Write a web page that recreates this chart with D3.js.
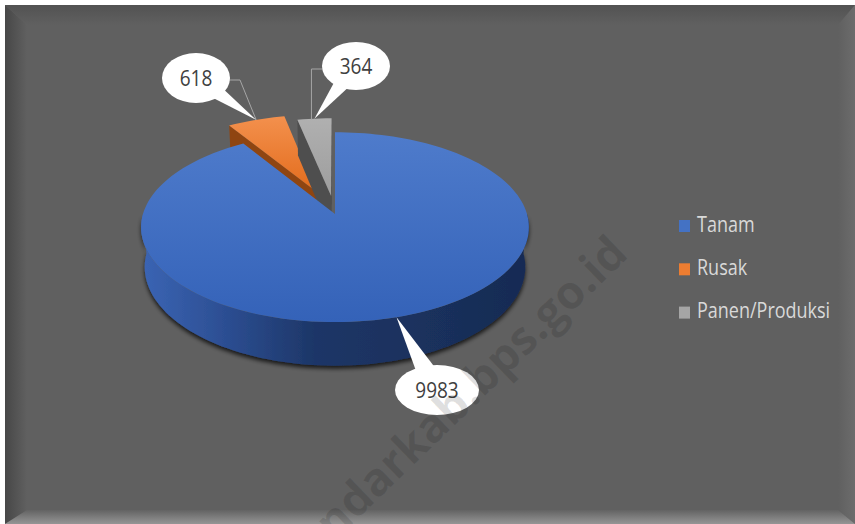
<!DOCTYPE html>
<html>
<head>
<meta charset="utf-8">
<script src="https://cdn.jsdelivr.net/npm/d3@7"></script>
<style>
  body { margin: 0; background: #fff; }
  svg { display: block; }
</style>
</head>
<body>
<div id="chart"></div>
<script>

// DATA

const categories = ['Tanam', 'Rusak', 'Panen/Produksi'];
const values = [9983, 618, 364];
const labels = ['9983', '618', '364'];

// CHART

const width = 855;
const height = 524;
const palette = ['#4472c4', '#ed7d31', '#a5a5a5'];
const explode = [0, 0.27, 0.2];

const svg = d3.select('#chart')
    .append('svg')
        .attr('width', width)
        .attr('height', height);

const defs = svg.append('defs');

function linGrad(id, x1, y1, x2, y2, stops, units) {
    const g = defs.append('linearGradient')
        .attr('id', id)
        .attr('x1', x1).attr('y1', y1)
        .attr('x2', x2).attr('y2', y2);
    if (units) g.attr('gradientUnits', units);
    stops.forEach(s => g.append('stop')
        .attr('offset', s[0])
        .attr('stop-color', s[1]));
}

// frame with bevel
linGrad('bevL', 0, 0, 1, 0, [[0, '#474747'], [1, '#606060']]);
linGrad('bevT', 0, 0, 0, 1, [[0, '#525252'], [1, '#606060']]);
linGrad('bevR', 0, 0, 1, 0, [[0, '#606060'], [1, '#6c6c6c']]);
linGrad('bevB', 0, 0, 0, 1, [[0, '#636363'], [1, '#959595']]);

svg.append('rect')
    .attr('x', 5).attr('y', 5)
    .attr('width', width - 5).attr('height', height - 5)
    .attr('fill', '#606060');

const bevel = [
    ['bevL', [[5, 5], [27, 25], [27, 510], [5, 524]]],
    ['bevT', [[5, 5], [855, 5], [838, 25], [27, 25]]],
    ['bevR', [[855, 5], [855, 524], [838, 510], [838, 25]]],
    ['bevB', [[5, 524], [855, 524], [838, 510], [27, 510]]]
];
bevel.forEach(b => svg.append('path')
    .attr('d', 'M' + b[1].join('L') + 'Z')
    .attr('fill', `url(#${b[0]})`));

// slice shading
linGrad('topBlue', 0, 128, 0, 324, [[0, '#4f7ccc'], [1, '#3462b8']], 'userSpaceOnUse');
linGrad('wallBlue', 140, 0, 530, 0,
    [[0, '#3b65b5'], [0.22, '#2c4e92'], [0.45, '#1d3667'], [1, '#172b53']], 'userSpaceOnUse');
linGrad('topOrange', 0, 0, 0, 1, [[0, '#f3904d'], [1, '#e36c1c']]);
linGrad('topGray', 0, 0, 0, 1, [[0, '#b0b0b0'], [1, '#9d9d9d']]);

const shadow = defs.append('filter')
    .attr('id', 'pieShadow')
    .attr('x', '-10%').attr('y', '-10%')
    .attr('width', '120%').attr('height', '130%');
shadow.append('feDropShadow')
    .attr('dx', 0).attr('dy', 3)
    .attr('stdDeviation', 2)
    .attr('flood-color', '#000')
    .attr('flood-opacity', 0.75);

const sliceStyle = [
    {top: 'url(#topBlue)', wall: 'url(#wallBlue)', start: '#1d3667', end: '#1d3667'},
    {top: 'url(#topOrange)', wall: '#9a4a14', start: '#8f4511', end: '#8f4511'},
    {top: 'url(#topGray)', wall: '#555', start: '#4e4e4e', end: '#262626'}
];

// 3d projection of the disc
const rad = Math.PI / 180;
const cx = 335, cy = 214, S = 192, D = 6.3, tilt = 29 * rad, depth = 0.24;
const camera = [0, -D * Math.cos(tilt), D * Math.sin(tilt)];

function proj(X, Z, h) {
    const v = Z * Math.sin(tilt) + h * Math.cos(tilt);
    const w = D + Z * Math.cos(tilt) - h * Math.sin(tilt);
    const k = D / w;
    return [cx + S * X * k, cy - S * v * k];
}

const pie = d3.pie().sort(null).value(d => d);
const arcs = pie(values);
arcs.forEach((a, i) => {
    a.mid = (a.startAngle + a.endAngle) / 2;
    a.explode = explode[i];
    a.ox = explode[i] * Math.sin(a.mid);
    a.oz = explode[i] * Math.cos(a.mid);
});

function rim(a, t0, t1, h) {
    const n = Math.max(2, Math.ceil((t1 - t0) / (2 * rad)));
    return d3.range(n + 1).map(j => {
        const t = t0 + (t1 - t0) * j / n;
        return proj(a.ox + Math.sin(t), a.oz + Math.cos(t), h);
    });
}

const line = d3.line().curve(d3.curveLinearClosed);

function topPath(a) {
    return line([proj(a.ox, a.oz, 0)].concat(rim(a, a.startAngle, a.endAngle, 0)));
}
function wallPath(a, t0, t1) {
    return line(rim(a, t0, t1, 0).concat(rim(a, t0, t1, -depth).reverse()));
}
function facePath(a, t) {
    return line([
        proj(a.ox, a.oz, 0),
        proj(a.ox + Math.sin(t), a.oz + Math.cos(t), 0),
        proj(a.ox + Math.sin(t), a.oz + Math.cos(t), -depth),
        proj(a.ox, a.oz, -depth)
    ]);
}
function faceVisible(a, t, sign) {
    const nx = sign * Math.cos(t), nz = -sign * Math.sin(t);
    const fx = a.ox + 0.5 * Math.sin(t), fz = a.oz + 0.5 * Math.cos(t);
    return nx * (camera[0] - fx) + nz * (camera[1] - fz) > 0.001;
}

const pieG = svg.append('g');
const order = d3.sort(arcs, (a, b) => b.explode - a.explode);

order.forEach(a => {
    const st = sliceStyle[a.index];
    const g = pieG.append('g');
    // visible part of outer wall faces the viewer (90..270 deg)
    const t0 = Math.max(a.startAngle, 90 * rad);
    const t1 = Math.min(a.endAngle, 270 * rad);
    if (t1 > t0) {
        g.append('path')
            .attr('d', wallPath(a, t0, t1))
            .attr('fill', st.wall)
            .attr('filter', a.index === 0 ? 'url(#pieShadow)' : null);
    }
    if (faceVisible(a, a.startAngle, -1)) {
        g.append('path').attr('d', facePath(a, a.startAngle)).attr('fill', st.start);
    }
    if (faceVisible(a, a.endAngle, 1)) {
        g.append('path').attr('d', facePath(a, a.endAngle)).attr('fill', st.end);
    }
    g.append('path')
        .attr('d', topPath(a))
        .attr('fill', st.top);
});

// CALLOUTS

const calloutBox = [
    {cx: 437, cy: 390, rx: 42, ry: 25, leader: null},
    {cx: 196, cy: 78, rx: 34, ry: 25, leader: 'right'},
    {cx: 356, cy: 66, rx: 34, ry: 24, leader: 'left'}
];

const callG = svg.append('g');
arcs.forEach((a, i) => {
    const b = calloutBox[i];
    const anchor = proj(a.ox + Math.sin(a.mid), a.oz + Math.cos(a.mid), 0);

    if (b.leader === 'right') {
        callG.append('path')
            .attr('d', d3.line()([[b.cx + b.rx - 1, b.cy + 2], [b.cx + b.rx + 10, b.cy + 2], anchor]))
            .attr('fill', 'none').attr('stroke', '#a6a6a6').attr('stroke-width', 1);
    } else if (b.leader === 'left') {
        const lx = anchor[0] - 3;
        callG.append('path')
            .attr('d', d3.line()([[b.cx - b.rx + 1, b.cy + 3], [lx, b.cy + 3], [lx, anchor[1] + 1]]))
            .attr('fill', 'none').attr('stroke', '#a6a6a6').attr('stroke-width', 1);
    }

    const phi = Math.atan2((anchor[1] - b.cy) / b.ry, (anchor[0] - b.cx) / b.rx);
    const base = [phi - 0.24, phi + 0.24].map(p => [
        b.cx + 0.96 * b.rx * Math.cos(p), b.cy + 0.96 * b.ry * Math.sin(p)]);
    callG.append('path')
        .attr('d', d3.line()([base[0], anchor, base[1], [b.cx, b.cy]]) + 'Z')
        .attr('fill', '#fff');
    callG.append('ellipse')
        .attr('cx', b.cx).attr('cy', b.cy)
        .attr('rx', b.rx).attr('ry', b.ry)
        .attr('fill', '#fff');
    callG.append('text')
        .attr('transform', `translate(${b.cx}, ${b.cy}) scale(1, 1.18)`)
        .attr('text-anchor', 'middle')
        .attr('dy', '0.36em')
        .attr('font-family', '"Open Sans", "Noto Sans", sans-serif')
        .attr('font-size', 19)
        .attr('fill', '#404040')
        .text(labels[i]);
});

// LEGEND

const legend = svg.append('g')
    .attr('transform', 'translate(679, 220)');

const item = legend.selectAll('g')
    .data(categories)
    .join('g')
        .attr('transform', (d, i) => `translate(0, ${i * 43.3})`);

item.append('rect')
    .attr('width', 11)
    .attr('height', 12)
    .attr('fill', (d, i) => palette[i]);

item.append('text')
    .attr('transform', 'translate(18, 11.5) scale(1, 1.18)')
    .attr('font-family', '"Open Sans", "Noto Sans", sans-serif')
    .attr('font-size', 18)
    .attr('fill', '#d9d9d9')
    .text(d => d);

// watermark
svg.append('text')
    .attr('transform', 'translate(630, 256) rotate(-44)')
    .attr('text-anchor', 'end')
    .attr('font-family', '"Open Sans", sans-serif')
    .attr('font-weight', 700)
    .attr('font-size', 46)
    .attr('fill', '#000')
    .attr('fill-opacity', 0.12)
    .text('ndarkab.bps.go.id');

</script>
</body>
</html>
